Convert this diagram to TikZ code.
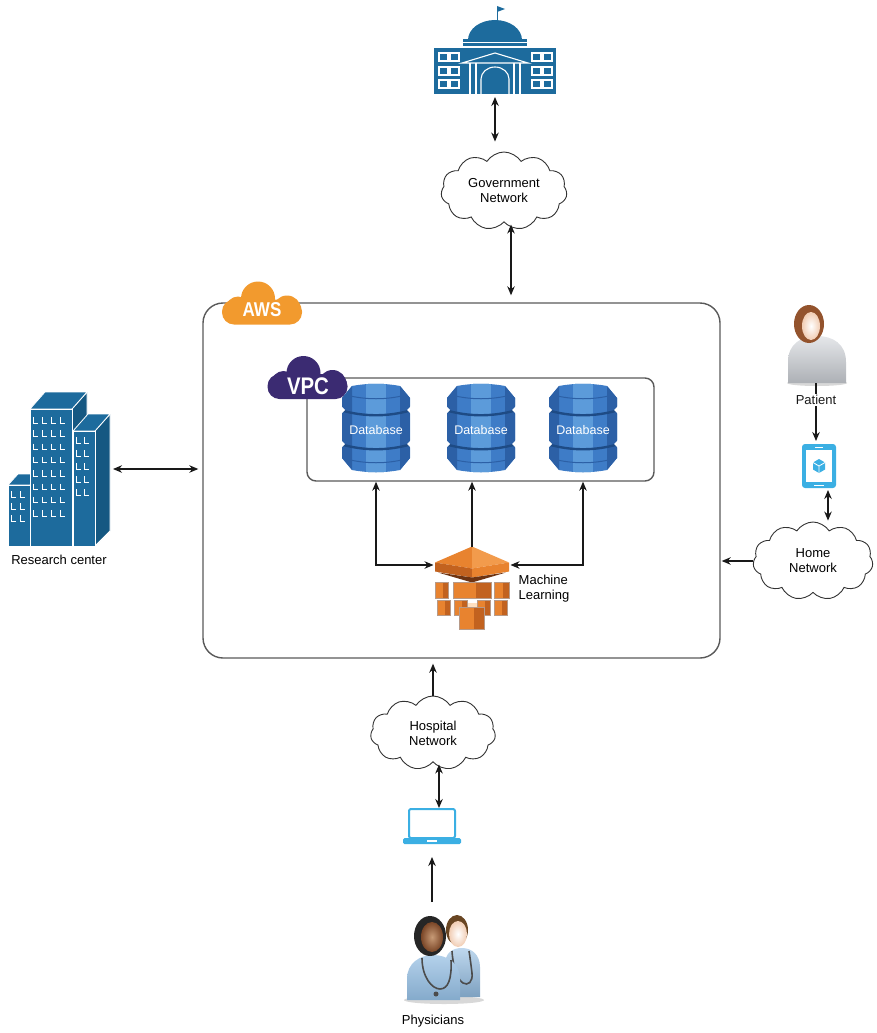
\documentclass[tikz,border=0pt]{standalone}
\usepackage{fontspec}
\setmainfont{Liberation Sans}
\newfontfamily\logofont[FakeStretch=0.85]{Liberation Sans}
\usetikzlibrary{positioning, arrows.meta, shapes.symbols}

\definecolor{awsorange}{HTML}{F29A2E}
\definecolor{vpcpurple}{HTML}{3B2B72}
\definecolor{dbblue}{HTML}{3E7CC7}
\definecolor{dblight}{HTML}{5C9BDA}
\definecolor{dbdark}{HTML}{2C60A6}
\definecolor{dbline}{HTML}{1E4B85}
\definecolor{bldblue}{HTML}{1D6B9D}
\definecolor{blddark}{HTML}{155882}
\definecolor{devblue}{HTML}{3BAFE3}
\definecolor{mlorange}{HTML}{E8832F}
\definecolor{mllight}{HTML}{F29B4C}
\definecolor{mldark}{HTML}{C2621F}
\definecolor{mlshade}{HTML}{6E3412}
\definecolor{scrubs}{HTML}{93BDE2}
\definecolor{shirt}{HTML}{CBCFD5}
\definecolor{hair}{HTML}{93532D}
\definecolor{skin}{HTML}{F1CDB4}
\definecolor{darkskin}{HTML}{7A4627}

\tikzset{>={Stealth[length=9pt, width=7.5pt]}, node distance=1cm}
\tikzset{
  link/.style={<->, line width=1.1pt, black!90},
  oneway/.style={->, line width=1.1pt, black!90},
  boxframe/.style={draw=black!65, line width=1.4pt, inner sep=0pt},
  iconbox/.style={inner sep=0pt, outer sep=0pt},
  lbl/.style={font=\fontsize{13}{15}\selectfont, align=center, inner sep=1pt},
  logo/.style={text=white, inner sep=0pt, font=\logofont\bfseries},
  dbnode/.style={iconbox, minimum width=70pt, minimum height=84pt, text=white,
    font=\fontsize{12.5}{14}\selectfont},
  netcloud/.style={cloud, draw=black!80, line width=0.9pt, cloud puffs=11,
    cloud puff arc=115, cloud ignores aspect, lbl, inner sep=0pt},
  % flat bottomed logo cloud
  pics/cloudlogo/.style={code={
    \fill[#1, rounded corners=12pt] (-40,-4) rectangle (40,21);
    \fill[#1] (-4,-5) circle[radius=17pt] (-24,5) circle[radius=12pt]
      (25,6) circle[radius=14pt];
  }},
  % database cylinder
  pics/dbicon/.style={code={
    \fill[dbblue] (-34,-30) -- (-24,-42) .. controls (-8,-45) and (8,-45) .. (24,-42)
      -- (34,-30) -- (34,30) -- (24,42) .. controls (8,45) and (-8,45) .. (-24,42)
      -- (-34,30) -- cycle;
    \begin{scope}
      \clip (-34,-30) -- (-24,-42) .. controls (-8,-45) and (8,-45) .. (24,-42)
        -- (34,-30) -- (34,30) -- (24,42) .. controls (8,45) and (-8,45) .. (-24,42)
        -- (-34,30) -- cycle;
      \fill[dbdark] (-34,-46) rectangle (-24,46) (24,-46) rectangle (34,46);
      \fill[dblight] (-10,-46) rectangle (10,46);
      \draw[dbdark, line width=1pt] (-30,-33) .. controls (-10,-28) and (10,-28) .. (30,-33)
        (-30,31) .. controls (-10,36) and (10,36) .. (30,31);
      \draw[dbline, line width=2.4pt] (-36,-18) .. controls (-12,-11) and (12,-11) .. (36,-18)
        (-36,16) .. controls (-12,23) and (12,23) .. (36,16);
    \end{scope}
    \fill[white] (-35,-22) -- (-31,-18) -- (-35,-14) -- cycle
      (35,-22) -- (31,-18) -- (35,-14) -- cycle
      (-35,12) -- (-31,16) -- (-35,20) -- cycle
      (35,12) -- (31,16) -- (35,20) -- cycle;
  }},
  % machine learning block stack
  pics/mlicon/.style={code={
    \fill[mlorange] (0,-42) -- (-37,-26) -- (0,-20) -- cycle;
    \fill[mllight] (0,-42) -- (37,-26) -- (0,-20) -- cycle;
    \fill[mldark] (-37,-26) -- (0,-20) -- (0,-11) -- (-37,-17) -- cycle;
    \fill[mlorange] (37,-26) -- (0,-20) -- (0,-11) -- (37,-17) -- cycle;
    \fill[mlshade] (-34,-16) -- (0,-11) -- (34,-16) -- (0,-6) -- cycle;
    \fill[orange!25] (-10,14) rectangle (10,22);
    \foreach \xa/\ya/\xb/\yb in {-37/-6/-24/10, -19/-6/19/10, 22/-6/37/10,
        -35/12/-22/27, -18/12/-5/27, 5/12/18/27, 22/12/35/27, -13/19/12/41}{
      \filldraw[fill=mlorange, draw=mlshade!50, line width=0.5pt] (\xa,\ya) rectangle (\xb,\yb);
      \fill[mldark] ({\xa+0.6*(\xb-\xa)},\ya) rectangle (\xb,\yb);
      \draw[mlshade!50, line width=0.5pt] (\xa,\ya) rectangle (\xb,\yb);
    }
  }},
  % government building
  pics/capitol/.style={code={
    \draw[bldblue, line width=1pt] (2,-44) -- (2,-31);
    \fill[bldblue] (2,-45) -- (10,-42) -- (2,-39) -- cycle;
    \fill[bldblue] (-27,-11) arc[start angle=180, end angle=0, x radius=27pt, y radius=20pt] -- cycle;
    \fill[bldblue] (-32,-12) rectangle (32,-5);
    \draw[white, line width=0.8pt] (-32,-8.5) -- (32,-8.5);
    \fill[bldblue] (-61,-3) rectangle (61,43);
    \foreach \x in {-56,-45,37,48}
      \foreach \y in {2,16,29}
        \draw[white, line width=1.1pt] (\x,\y) rectangle ++(9,8);
    \draw[white, line width=1.1pt] (-33,12) -- (0,2) -- (33,12) -- cycle;
    \draw[white, line width=1.1pt] (-25,12) -- (-25,43) (-19,12) -- (-19,43)
      (19,12) -- (19,43) (25,12) -- (25,43);
    \draw[white, line width=1.1pt] (-14,43) -- (-14,28)
      arc[start angle=180, end angle=0, x radius=14pt, y radius=12pt] -- (14,43);
  }},
  % office towers
  pics/towers/.style={code={
    \filldraw[fill=bldblue, draw=white, line width=0.8pt] (-51,16) -- (-41,5) -- (-19,5) -- (-29,16) -- cycle;
    \filldraw[fill=bldblue, draw=white, line width=0.8pt] (-51,16) rectangle (-29,77);
    \filldraw[fill=blddark, draw=white, line width=0.8pt] (13,-60) -- (28,-77) -- (28,61) -- (13,77) -- cycle;
    \filldraw[fill=bldblue, draw=white, line width=0.8pt] (-29,-60) -- (-14,-77) -- (28,-77) -- (13,-60) -- cycle;
    \filldraw[fill=bldblue, draw=white, line width=0.8pt] (-29,-60) rectangle (13,77);
    \filldraw[fill=blddark, draw=white, line width=0.8pt] (36,-38) -- (51,-55) -- (51,62) -- (36,77) -- cycle;
    \filldraw[fill=bldblue, draw=white, line width=0.8pt] (14,-38) -- (29,-55) -- (51,-55) -- (36,-38) -- cycle;
    \filldraw[fill=bldblue, draw=white, line width=0.8pt] (14,-38) rectangle (36,77);
    \foreach \x in {-26,-17,-8,1}
      \foreach \y in {-52,-38.7,-25.4,-12.1,1.2,14.5,27.8,41.1}
        \draw[white, line width=0.9pt] (\x,\y) -- ++(0,6) -- ++(5,0);
    \foreach \x in {17,25}
      \foreach \y in {-32,-19,-6,7,20}
        \draw[white, line width=0.9pt] (\x,\y) -- ++(0,6) -- ++(5,0);
    \foreach \x in {-48,-39}
      \foreach \y in {22,34,46}
        \draw[white, line width=0.9pt] (\x,\y) -- ++(0,6) -- ++(5,0);
  }},
  % patient avatar
  pics/patient/.style={code={
    \fill[black!30, opacity=0.5] (1,39) circle[x radius=30pt, y radius=3pt];
    \shade[top color=shirt!50!white, bottom color=shirt!85!black]
      (-28,39) -- (-28,18) .. controls (-28,0) and (-15,-8) .. (1,-8)
      .. controls (17,-8) and (30,0) .. (30,18) -- (30,39) -- cycle;
    \fill[hair] (-7,-20) circle[x radius=15pt, y radius=19pt];
    \shade[inner color=white, outer color=skin] (-5,-18) circle[x radius=9pt, y radius=14pt];
  }},
  % two physicians
  pics/doctors/.style={code={
    \fill[black!30, opacity=0.5] (2,43) circle[x radius=40pt, y radius=4pt];
    \shade[top color=scrubs!60!white, bottom color=scrubs!85!black]
      (3,40) -- (3,8) .. controls (3,-4) and (10,-9) .. (20,-9)
      .. controls (30,-9) and (38,-2) .. (38,10) -- (38,40) -- cycle;
    \fill[brown!55!black] (15,-27) circle[x radius=11pt, y radius=15pt];
    \shade[inner color=white, outer color=skin] (16,-23) circle[x radius=9pt, y radius=13pt];
    \draw[black!70, line width=1.6pt] (10,-6) .. controls (11,10) and (15,22) .. (21,26)
      .. controls (26,29) and (31,25) .. (30,16) .. controls (29,8) and (28,0) .. (27,-6);
    \shade[top color=scrubs!70!white, bottom color=scrubs!90!black]
      (-35,43) -- (-35,22) .. controls (-35,6) and (-22,-2) .. (-9,-2)
      .. controls (5,-2) and (18,6) .. (18,22) -- (18,43) -- cycle;
    \fill[black!85] (-12,-21) circle[x radius=16pt, y radius=20pt];
    \shade[inner color=darkskin!70!orange!60!white, outer color=darkskin] (-10,-20) circle[x radius=11pt, y radius=15pt];
    \draw[black!70, line width=1.6pt] (-20,1) .. controls (-20,20) and (-10,32) .. (-2,32)
      .. controls (6,32) and (10,22) .. (9,3);
    \fill[black!70] (-6,37) circle[radius=2.5pt];
  }},
  % tablet device
  pics/tablet/.style={code={
    \fill[devblue, rounded corners=3pt] (-17,-22) rectangle (17,22);
    \fill[white] (-13,-16) rectangle (13,16);
    \draw[white, line width=1pt] (-4,-19) -- (4,-19) (-5,19) -- (5,19);
    \fill[devblue] (0,-7) -- (6,-3.5) -- (6,3.5) -- (0,7) -- (-6,3.5) -- (-6,-3.5) -- cycle;
    \draw[white, line width=0.8pt] (-6,-3.5) -- (0,0) -- (6,-3.5) (0,0) -- (0,7);
  }},
  % laptop device
  pics/laptop/.style={code={
    \draw[devblue, line width=2pt, rounded corners=2pt] (-23,-17) rectangle (23,12);
    \fill[devblue, rounded corners=1.5pt] (-29,12) rectangle (29,18);
    \fill[white] (-5,14) rectangle (5,15.5);
  }}
}

\begin{document}
\begin{tikzpicture}[x=1pt, y=-1pt]
\useasboundingbox (0,0) rectangle (876,1033);

% account and private network frames
\node[boxframe, rounded corners=20pt, minimum width=517pt, minimum height=355pt] (aws) at (461.5,480.5) {};
\node[boxframe, rounded corners=9pt, minimum width=347pt, minimum height=103pt] (vpc) at (480.5,429.5) {};
\pic at (262,303.5) {cloudlogo=awsorange};
\node[logo, font=\logofont\bfseries\fontsize{20}{20}\selectfont] (awslogo) at (262,310) {AWS};
\pic at (307.5,378) {cloudlogo=vpcpurple};
\node[logo, font=\logofont\bfseries\fontsize{24}{24}\selectfont] (vpclogo) at (308,386) {VPC};

% storage and learning
\pic at (376,428) {dbicon};
\node[dbnode] (db1) at (376,430) {Database};
\pic at (481,428) {dbicon};
\node[dbnode] (db2) at (481,430) {Database};
\pic at (583,428) {dbicon};
\node[dbnode] (db3) at (583,430) {Database};
\node[iconbox, minimum width=77pt, minimum height=83pt] (ml) at (472,588.5) {};
\pic at (ml) {mlicon};
\node[lbl, align=left, right=7pt of ml] (mllabel) {Machine\\Learning};

% government side
\node[iconbox, minimum width=122pt, minimum height=86pt] (gov) at (495,51) {};
\pic at (gov) {capitol};
\node[netcloud, minimum width=126pt, minimum height=78pt] (govnet) at (504,191) {Government\\Network};

% research side
\node[iconbox, minimum width=102pt, minimum height=154pt] (research) at (59,469) {};
\pic at (research) {towers};
\node[lbl, below=8pt of research] (reslabel) {Research center};

% patient side
\node[iconbox, minimum width=58pt, minimum height=78pt] (patient) at (816,344) {};
\pic at (patient) {patient};
\node[iconbox, minimum width=34pt, minimum height=44pt] (tablet) at (819,466) {};
\pic at (tablet) {tablet};
\node[netcloud, minimum width=120pt, minimum height=78pt] (homenet) at (813,561) {Home\\Network};

% hospital side
\node[netcloud, minimum width=125pt, minimum height=74pt] (hospnet) at (433,733) {Hospital\\Network};
\node[iconbox, minimum width=58pt, minimum height=36pt] (laptop) at (432,826) {};
\pic at (laptop) {laptop};
\node[iconbox, minimum width=76pt, minimum height=90pt] (docs) at (442,957) {};
\pic at (docs) {doctors};
\node[lbl, below=12pt of docs, xshift=-9pt] (doclabel) {Physicians};

% connections
\draw[link, shorten <=3pt, shorten >=10pt] (gov.south) -- (gov.south |- govnet.north);
\draw[link, shorten <=2pt, shorten >=7pt] ([xshift=7pt]govnet.south) -- ([xshift=7pt]govnet.south |- aws.north);
\draw[link, shorten <=3pt, shorten >=4pt] (research.east) -- (research.east -| aws.west);
\draw[oneway, shorten >=1pt] (homenet.west) -- (homenet.west -| aws.east);
\draw[oneway, shorten >=3pt] (patient.south) -- node[lbl, fill=white, pos=0.28] (patlabel) {Patient} (patient.south |- tablet.north);
\draw[link, shorten <=2pt, shorten >=1pt] ([xshift=9pt]tablet.south) -- ([xshift=9pt]tablet.south |- homenet.north);
\draw[oneway, shorten >=5pt] (hospnet.north) -- (hospnet.north |- aws.south);
\draw[link, shorten <=2pt] ([xshift=6pt]hospnet.south) -- ([xshift=6pt]hospnet.south |- laptop.north);
\draw[oneway, shorten <=10pt, shorten >=13pt] (laptop.south |- docs.north) -- (laptop.south);
\draw[link] (db1 |- vpc.south) |- ([yshift=-18pt]ml.north west);
\draw[oneway] (ml.north) -- (ml.north |- vpc.south);
\draw[link] (db3 |- vpc.south) |- ([yshift=-18pt]ml.north east);

\end{tikzpicture}
\end{document}
